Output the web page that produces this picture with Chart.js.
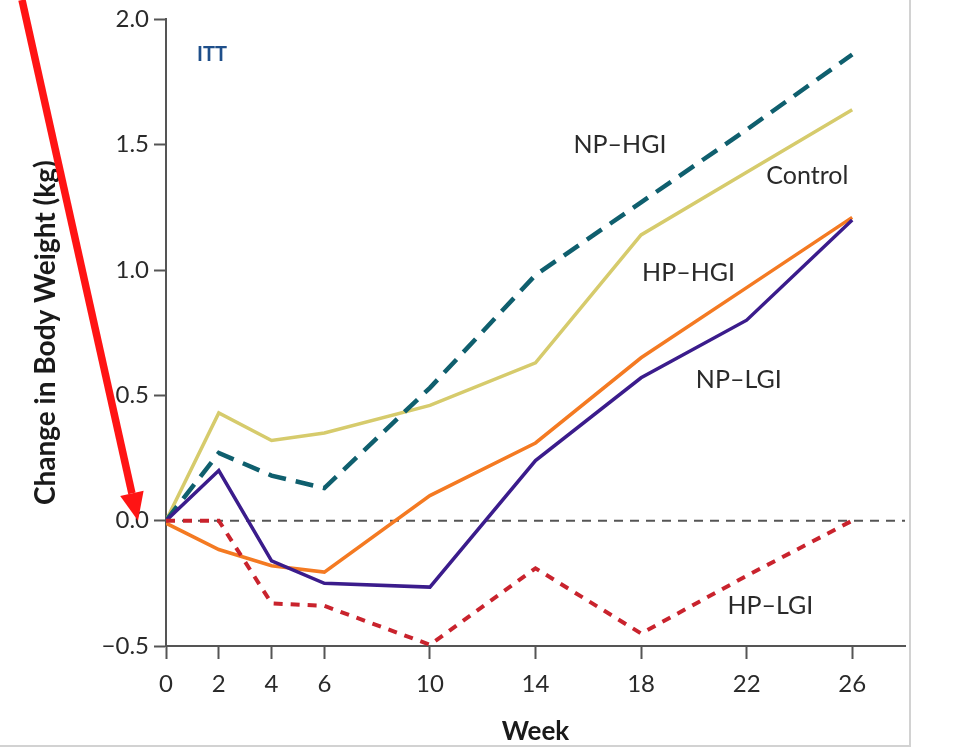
<!DOCTYPE html>
<html>
<head>
<meta charset="utf-8">
<script src="https://cdn.jsdelivr.net/npm/chart.js@4.4.1/dist/chart.umd.min.js"></script>
<style>
  html, body { margin: 0; padding: 0; background: #fff; }
  #wrap { position: relative; width: 960px; height: 750px; }
  #frame { position: absolute; left: 0; top: 0; width: 909px; height: 745px;
           border-right: 2px solid #d2d2d2; border-bottom: 2px solid #d2d2d2; }
  #chart { position: absolute; left: 0; top: 0; }
</style>
</head>
<body>
<div id="wrap">
  <div id="frame"></div>
  <canvas id="chart" width="960" height="750"></canvas>
</div>
<script>
// weeks of follow-up and change in body weight (kg)
const weeks = [0, 2, 4, 6, 10, 14, 18, 22, 26];
const yTicks = [-0.5, 0, 0.5, 1.0, 1.5, 2.0];

const npHgi   = [0, 0.27, 0.18, 0.13, 0.53, 0.98, 1.27, 1.56, 1.86];
const control = [0, 0.43, 0.32, 0.35, 0.46, 0.63, 1.14, 1.39, 1.64];
const hpHgi   = [-0.01, -0.115, -0.18, -0.205, 0.10, 0.31, 0.65, 0.93, 1.21];
const npLgi   = [0, 0.20, -0.16, -0.25, -0.265, 0.24, 0.57, 0.80, 1.20];
const hpLgi   = [0, 0, -0.33, -0.34, -0.495, -0.19, -0.45, -0.22, 0];

const FONT = 'Lato, "Open Sans", sans-serif';

function pts(values) {
    return weeks.map((w, i) => ({ x: w, y: values[i] }));
}

// series labels and the red pointer arrow
const overlay = {
    id: 'overlay',
    afterDraw(chart) {
        const { ctx, scales: { x, y } } = chart;
        const notes = [
            { text: 'NP\u2013HGI',  week: 17.2, value: 1.50 },
            { text: 'Control',      week: 24.3, value: 1.376 },
            { text: 'HP\u2013HGI',  week: 19.8, value: 0.99 },
            { text: 'NP\u2013LGI',  week: 21.7, value: 0.56 },
            { text: 'HP\u2013LGI',  week: 22.9, value: -0.34 }
        ];
        ctx.save();
        ctx.textAlign = 'center';
        ctx.textBaseline = 'middle';
        ctx.fillStyle = '#2a2a2a';
        ctx.font = '25px ' + FONT;
        notes.forEach(n => ctx.fillText(n.text, x.getPixelForValue(n.week), y.getPixelForValue(n.value)));

        ctx.fillStyle = '#1f4f8a';
        ctx.font = 'bold 20px ' + FONT;
        ctx.fillText('ITT', x.getPixelForValue(1.74), y.getPixelForValue(1.86));

        // arrow pointing at the 0.0 tick
        const tipX = y.right - 28, tipY = y.getPixelForValue(0);
        const startX = 22, startY = 0;
        const ang = Math.atan2(tipY - startY, tipX - startX);
        const headLen = 28, headW = 12;
        const baseX = tipX - headLen * Math.cos(ang), baseY = tipY - headLen * Math.sin(ang);
        ctx.strokeStyle = '#ff1414';
        ctx.fillStyle = '#ff1414';
        ctx.lineWidth = 7.5;
        ctx.beginPath();
        ctx.moveTo(startX, startY);
        ctx.lineTo(baseX, baseY);
        ctx.stroke();
        ctx.beginPath();
        ctx.moveTo(tipX, tipY);
        ctx.lineTo(baseX + headW * Math.sin(ang), baseY - headW * Math.cos(ang));
        ctx.lineTo(baseX - headW * Math.sin(ang), baseY + headW * Math.cos(ang));
        ctx.closePath();
        ctx.fill();
        ctx.restore();
    }
};

const ctx = document.getElementById('chart').getContext('2d');
new Chart(ctx, {
    type: 'line',
    data: {
        datasets: [
            { label: 'HP-LGI', data: pts(hpLgi), borderColor: '#c9232d', borderWidth: 4, borderDash: [9, 8] },
            { label: 'NP-LGI', data: pts(npLgi), borderColor: '#3b1c8c', borderWidth: 3.5 },
            { label: 'HP-HGI', data: pts(hpHgi), borderColor: '#f47a22', borderWidth: 3.5 },
            { label: 'NP-HGI', data: pts(npHgi), borderColor: '#0f5f6e', borderWidth: 4.5, borderDash: [18, 10] },
            { label: 'Control', data: pts(control), borderColor: '#d6cb6c', borderWidth: 3.5 },
            { label: 'zero', data: [{ x: 0, y: 0 }, { x: 28, y: 0 }], borderColor: '#555', borderWidth: 2, borderDash: [9, 7] }
        ]
    },
    options: {
        responsive: false,
        animation: false,
        layout: { padding: { top: 14, right: 55, bottom: 0, left: 0 } },
        elements: {
            point: { radius: 0, hoverRadius: 0 },
            line: { tension: 0, fill: false, borderCapStyle: 'butt' }
        },
        plugins: {
            legend: { display: false },
            tooltip: { enabled: false }
        },
        scales: {
            x: {
                type: 'linear',
                min: 0,
                max: 28,
                afterBuildTicks: scale => { scale.ticks = weeks.map(v => ({ value: v })); },
                afterFit: scale => { scale.height = 104; },
                grid: { drawOnChartArea: false, drawTicks: true, tickLength: 13, tickColor: '#555', tickWidth: 2 },
                border: { color: '#555', width: 2 },
                ticks: { color: '#2a2a2a', font: { family: FONT, size: 24 }, padding: 11, maxRotation: 0 },
                title: { display: true, text: 'Week', color: '#1a1a1a', font: { family: FONT, size: 26, weight: 'bold' }, padding: { top: 0, bottom: 3 } }
            },
            y: {
                min: -0.5,
                max: 2.0,
                afterBuildTicks: scale => { scale.ticks = yTicks.map(v => ({ value: v })); },
                afterFit: scale => { scale.width = 166; },
                grid: { drawOnChartArea: false, drawTicks: true, tickLength: 12, tickColor: '#555', tickWidth: 2 },
                border: { color: '#555', width: 2 },
                ticks: {
                    color: '#2a2a2a',
                    font: { family: FONT, size: 24 },
                    padding: 5,
                    callback: v => (v < 0 ? '\u2212' : '') + Math.abs(v).toFixed(1)
                },
                title: { display: true, text: 'Change in Body Weight (kg)', color: '#1a1a1a', font: { family: FONT, size: 28, weight: 'bold' }, padding: { top: 29, bottom: 0 } }
            }
        }
    },
    plugins: [overlay]
});
</script>
</body>
</html>
